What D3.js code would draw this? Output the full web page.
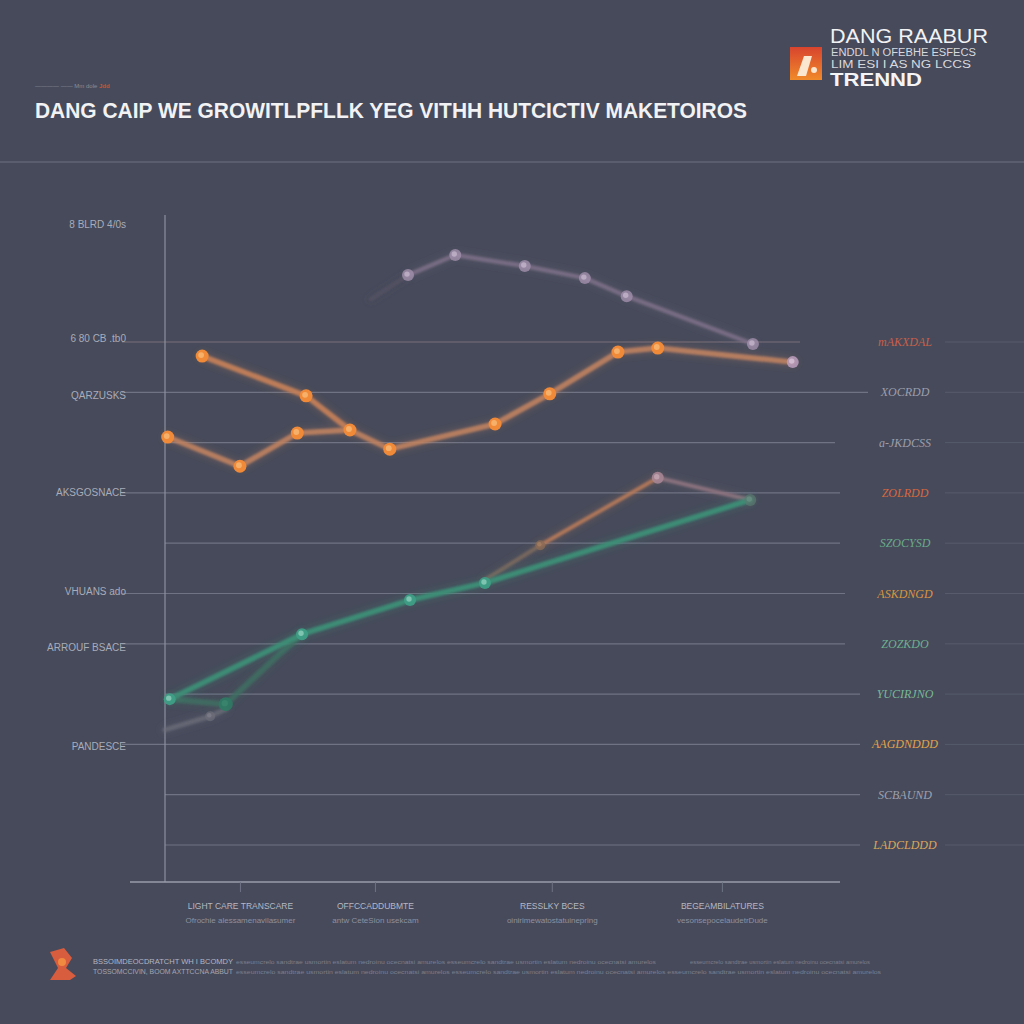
<!DOCTYPE html>
<html><head><meta charset="utf-8">
<script src="https://cdn.jsdelivr.net/npm/d3@7"></script>
<style>html,body{margin:0;padding:0;background:#464a5a;} svg{display:block}</style>
</head><body>
<svg id="chart" width="1024" height="1024"></svg>
<script>
// ---------- DATA ----------
const titleText = "DANG CAIP WE GROWITLPFLLK YEG VITHH HUTCICTIV MAKETOIROS";
const kickerText = "———— —— Mm dole";
const kickerRed = "Jdd";
const brandLines = ["DANG RAABUR", "ENDDL N OFEBHE ESFECS", "LIM ESI I AS NG LCCS", "TRENND"];

const gridValues = [0, 10, 20, 30, 40, 50, 60, 70, 80, 90, 100];
const rightTickLabels = ["LADCLDDD", "SCBAUND", "AAGDNDDD", "YUCIRJNO", "ZOZKDO", "ASKDNGD", "SZOCYSD", "ZOLRDD", "a-JKDCSS", "XOCRDD", "mAKXDAL"];
const leftTickValues = [123.5, 100.8, 89.5, 70.2, 50.5, 39.4, 19.7];
const leftTickLabels = ["8 BLRD 4/0s", "6 80 CB .tb0", "QARZUSKS", "AKSGOSNACE", "VHUANS ado", "ARROUF BSACE", "PANDESCE"];

const xTickValues = [11.1, 31.1, 57.3, 82.5];
const xTickLabels = ["LIGHT CARE TRANSCARE", "OFFCCADDUBMTE", "RESSLKY BCES", "BEGEAMBILATURES"];
const xTickSubLabels = ["Ofrochie alessamenavilasumer", "antw CeteSion usekcam", "oinirimewatostatuinepring", "vesonsepocelaudetrDude"];

const orangeMain = [[0.4,81.1],[11.1,75.3],[19.6,81.9],[27.4,82.5],[33.3,78.7],[48.9,83.7],[57.0,89.7],[67.1,98.0],[73.0,98.8],[93.0,96.0]];
const orangeUpper = [[5.5,97.2],[20.9,89.3],[27.4,82.5]];
const purple = [[36.0,113.3],[43.0,117.3],[53.3,115.1],[62.2,112.7],[68.4,109.1],[87.1,99.6]];
const purpleTrail = [[30.5,108.5],[36.0,113.3]];
const green = [[0.7,29.0],[20.3,41.9],[36.3,48.7],[47.4,52.1],[86.7,68.6]];
const greenDim = [[0.7,29.0],[9.0,28.0],[17.0,38.0],[20.3,41.9]];
const grayDim = [[0,22.9],[6.7,25.6],[9.0,27.0]];
const rose = [[47.4,52.7],[55.6,59.6],[73.0,73.0],[86.7,68.6]];

const footerLines = ["BSSOIMDEOCDRATCHT WH I BCOMDY", "TOSSOMCCIVIN, BOOM AXTTCCNA ABBUT"];

// ---------- LAYOUT ----------
const svg = d3.select("#chart");
const W = 1024, H = 1024;
svg.append("rect").attr("width", W).attr("height", H).attr("fill", "#464a5a");

const defs = svg.append("defs");
const blur = defs.append("filter").attr("id", "soft").attr("x", "-20%").attr("y", "-20%").attr("width", "140%").attr("height", "140%");
blur.append("feGaussianBlur").attr("stdDeviation", 1.0);
const blur2 = defs.append("filter").attr("id", "glow").attr("x", "-50%").attr("y", "-50%").attr("width", "200%").attr("height", "200%");
blur2.append("feGaussianBlur").attr("stdDeviation", 3);
const lg = defs.append("linearGradient").attr("id", "logoGrad").attr("x1", 0).attr("y1", 0).attr("x2", 0).attr("y2", 1);
lg.append("stop").attr("offset", "0%").attr("stop-color", "#d8442e");
lg.append("stop").attr("offset", "100%").attr("stop-color", "#f08a2a");

const plot = {left: 165, right: 840, bottom: 882, top: 215};
const x = d3.scaleLinear().domain([0, 100]).range([plot.left, plot.right]);
const y = d3.scaleLinear().domain([0, 100]).range([845, 342]);

// header
svg.append("text").attr("x", 35).attr("y", 88).attr("font-family", "Liberation Sans, Arial").attr("font-size", 6)
  .attr("fill", "#8a8d9a").text(kickerText)
  .append("tspan").attr("fill", "#d0503a").attr("font-weight", "bold").text(" " + kickerRed);
svg.append("text").attr("x", 35).attr("y", 118).attr("font-family", "Liberation Sans, Arial").attr("font-size", 22)
  .attr("font-weight", "bold")
  .attr("fill", "#f2f2f4").attr("textLength", 712).attr("lengthAdjust", "spacingAndGlyphs").text(titleText);
svg.append("line").attr("x1", 0).attr("x2", W).attr("y1", 162).attr("y2", 162).attr("stroke", "#6c7082").attr("stroke-width", 1);

// brand block
svg.append("rect").attr("x", 790).attr("y", 47).attr("width", 32).attr("height", 33).attr("fill", "url(#logoGrad)");
svg.append("path").attr("d", "M797,76 L804,56 L812,56 L806,76 Z").attr("fill", "#fbe6d0");
svg.append("circle").attr("cx", 814).attr("cy", 70).attr("r", 3).attr("fill", "#fbe6d0");
svg.append("text").attr("x", 830).attr("y", 43).attr("font-family", "Liberation Sans, Arial").attr("font-size", 20)
  .attr("fill", "#f2f2f4").attr("textLength", 158).attr("lengthAdjust", "spacingAndGlyphs").text(brandLines[0]);
svg.append("text").attr("x", 831).attr("y", 56).attr("font-family", "Liberation Sans, Arial").attr("font-size", 10)
  .attr("fill", "#d8d9de").attr("textLength", 145).attr("lengthAdjust", "spacingAndGlyphs").text(brandLines[1]);
svg.append("text").attr("x", 831).attr("y", 68).attr("font-family", "Liberation Sans, Arial").attr("font-size", 10)
  .attr("fill", "#d8d9de").attr("textLength", 140).attr("lengthAdjust", "spacingAndGlyphs").text(brandLines[2]);
svg.append("text").attr("x", 830).attr("y", 86).attr("font-family", "Liberation Sans, Arial").attr("font-size", 19)
  .attr("font-weight", "bold").attr("fill", "#f4f4f6").attr("textLength", 92).attr("lengthAdjust", "spacingAndGlyphs").text(brandLines[3]);

// gridlines
const leftExt = new Set([100, 90, 70, 50, 40, 20]);
const gridRight = {100: 800, 90: 868, 80: 835, 70: 840, 60: 840, 50: 845, 40: 845, 30: 860, 20: 860, 10: 860, 0: 860};
const gGrid = svg.append("g");
gGrid.selectAll("line.grid").data(gridValues).join("line")
  .attr("class", "grid")
  .attr("x1", d => leftExt.has(d) ? 122 : plot.left)
  .attr("x2", d => gridRight[d])
  .attr("y1", d => y(d)).attr("y2", d => y(d))
  .attr("stroke", d => d === 100 ? "#7a6e78" : "#6f7384").attr("stroke-width", 1.2);
gGrid.selectAll("line.gridR").data(gridValues).join("line")
  .attr("class", "gridR")
  .attr("x1", 945).attr("x2", 1024)
  .attr("y1", d => y(d)).attr("y2", d => y(d))
  .attr("stroke", "#575b6c").attr("stroke-width", 1);

// axes frame
svg.append("line").attr("x1", plot.left).attr("x2", plot.left).attr("y1", plot.top).attr("y2", plot.bottom)
  .attr("stroke", "#8c909e").attr("stroke-width", 1.2);
svg.append("line").attr("x1", 130).attr("x2", plot.right).attr("y1", plot.bottom).attr("y2", plot.bottom)
  .attr("stroke", "#9a9eab").attr("stroke-width", 1.4);

// x axis via d3
const xAxis = d3.axisBottom(x).tickValues(xTickValues).tickSize(10).tickFormat(() => "");
const gx = svg.append("g").attr("transform", `translate(0,${plot.bottom})`).call(xAxis);
gx.select(".domain").remove();
gx.selectAll(".tick line").attr("stroke", "#6f7384");
gx.selectAll(".tick").append("text").attr("y", 27).attr("fill", "#b6b8c4").attr("font-size", 8.5)
  .attr("font-family", "Liberation Sans, Arial").attr("text-anchor", "middle").text((d, i) => xTickLabels[i]);
gx.selectAll(".tick").append("text").attr("y", 41).attr("fill", "#8e91a0").attr("font-size", 8)
  .attr("font-family", "Liberation Sans, Arial").attr("text-anchor", "middle").text((d, i) => xTickSubLabels[i]);

// left y labels
svg.append("g").selectAll("text").data(leftTickValues).join("text")
  .attr("x", 126).attr("y", d => y(d) + 4).attr("text-anchor", "end")
  .attr("font-family", "Liberation Sans Narrow, Liberation Sans, Arial").attr("font-size", 10)
  .attr("fill", "#a9acb9").text((d, i) => leftTickLabels[i]);

// right y labels
const rightColors = ["#dca65a", "#9ea0ae", "#e2a24a", "#78b898", "#6fb08f", "#d9953f", "#6aaa8a", "#d8683e", "#9c9eac", "#9c9eac", "#c8604a"];
svg.append("g").selectAll("text").data(gridValues).join("text")
  .attr("x", 905).attr("y", d => y(d) + 4).attr("text-anchor", "middle")
  .attr("font-family", "Liberation Serif, serif").attr("font-style", "italic").attr("font-size", 12)
  .attr("fill", (d, i) => rightColors[i]).text((d, i) => rightTickLabels[i]);

// series
const line = d3.line().x(d => x(d[0])).y(d => y(d[1]));
const gS = svg.append("g");
function drawLine(data, color, width, op) {
  gS.append("path").datum(data).attr("d", line).attr("fill", "none").attr("stroke", color)
    .attr("stroke-width", width + 6).attr("stroke-opacity", op * 0.18).attr("filter", "url(#glow)")
    .attr("stroke-linecap", "round").attr("stroke-linejoin", "round");
  gS.append("path").datum(data).attr("d", line).attr("fill", "none").attr("stroke", color)
    .attr("stroke-width", width).attr("stroke-opacity", op).attr("filter", "url(#soft)")
    .attr("stroke-linecap", "round").attr("stroke-linejoin", "round");
}
function drawPts(data, fill, inner, r, op) {
  const g = gS.append("g");
  g.selectAll("circle.o").data(data).join("circle").attr("class", "o")
    .attr("cx", d => x(d[0])).attr("cy", d => y(d[1])).attr("r", r).attr("fill", fill).attr("fill-opacity", op);
  g.selectAll("circle.i").data(data).join("circle").attr("class", "i")
    .attr("cx", d => x(d[0]) - 1).attr("cy", d => y(d[1]) - 1).attr("r", r * 0.45).attr("fill", inner).attr("fill-opacity", op * 0.7);
}

drawLine(grayDim, "#6f6f7c", 5, 0.7);
drawLine(greenDim, "#3f6f63", 6, 0.8);
drawLine(purpleTrail, "#5e5668", 4, 0.5);
drawLine(purple, "#86758f", 4.5, 0.75);
// rose / brown segments
const roseColors = ["#7c6a5e", "#b87a5a", "#8f7480"];
for (let i = 0; i < rose.length - 1; i++) drawLine([rose[i], rose[i + 1]], roseColors[i], 4, 0.9);
drawLine(green, "#3c8e76", 5.5, 0.95);
drawLine(orangeUpper, "#c27e58", 5.5, 0.95);
drawLine(orangeMain, "#bf8260", 5.5, 0.9);

drawPts(purple, "#a390ad", "#d6c8dc", 6, 0.8);
drawPts([rose[1]], "#8a6a55", "#b0886a", 5, 0.8);
drawPts([rose[2]], "#a78594", "#cdb0bc", 6, 0.9);
drawPts([rose[3]], "#5a7a70", "#7a9a90", 6, 0.7);
drawPts([greenDim[1]], "#2f7a64", "#3f8a74", 7, 0.9);
drawPts([grayDim[1]], "#6e6e7a", "#8a8a96", 5, 0.7);
drawPts(green.slice(0, 4), "#3f9e86", "#9fd6c8", 6, 0.95);
drawPts(orangeUpper.slice(0, 2), "#f08a38", "#f8c080", 6.5, 1);
drawPts(orangeMain.slice(0, 9), "#f08a38", "#f8c080", 6.5, 1);
drawPts([orangeMain[9]], "#b79ab8", "#e0d0e4", 6, 0.9);

// footer
svg.append("path").attr("d", "M50,952 L64,948 L72,958 L66,968 L76,976 L70,980 L50,980 L58,968 Z").attr("fill", "#d85c3e");
svg.append("circle").attr("cx", 62).attr("cy", 962).attr("r", 4).attr("fill", "#f08a40");
svg.append("text").attr("x", 93).attr("y", 964).attr("font-family", "Liberation Sans, Arial").attr("font-size", 7.5)
  .attr("fill", "#b4b6c2").attr("textLength", 140).attr("lengthAdjust", "spacingAndGlyphs").text(footerLines[0]);
svg.append("text").attr("x", 93).attr("y", 974).attr("font-family", "Liberation Sans, Arial").attr("font-size", 7.5)
  .attr("fill", "#a4a6b2").attr("textLength", 140).attr("lengthAdjust", "spacingAndGlyphs").text(footerLines[1]);
const filler = "esseumcrelo sandtrae usmortin eslatum nedroinu ocecnatsi amurelos ";
svg.append("text").attr("x", 236).attr("y", 964).attr("font-family", "Liberation Sans, Arial").attr("font-size", 6)
  .attr("fill", "#7c7f8e").attr("textLength", 420).attr("lengthAdjust", "spacingAndGlyphs").text(filler.repeat(2));
svg.append("text").attr("x", 690).attr("y", 964).attr("font-family", "Liberation Sans, Arial").attr("font-size", 6)
  .attr("fill", "#7c7f8e").attr("textLength", 180).attr("lengthAdjust", "spacingAndGlyphs").text(filler);
svg.append("text").attr("x", 236).attr("y", 974).attr("font-family", "Liberation Sans, Arial").attr("font-size", 6)
  .attr("fill", "#7c7f8e").attr("textLength", 645).attr("lengthAdjust", "spacingAndGlyphs").text(filler.repeat(3));
</script>
</body></html>
